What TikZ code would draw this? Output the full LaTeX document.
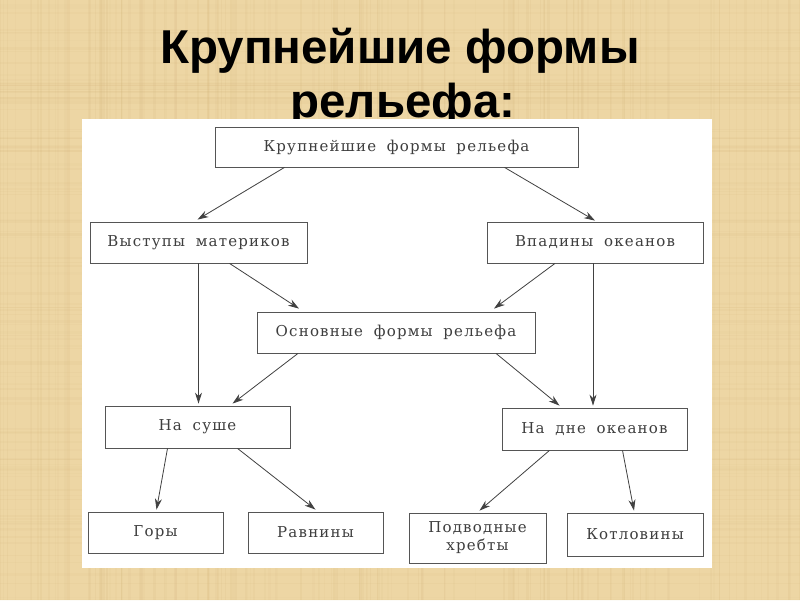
\documentclass[tikz,border=0pt]{standalone}
\usepackage{fontspec}
\setmainfont{DejaVu Serif}
\newfontfamily\titlefont{Liberation Sans}
\newfontfamily\boxfont[LetterSpace=8,WordSpace=1.8]{DejaVu Serif}
\usetikzlibrary{arrows.meta,calc}
\definecolor{parch}{RGB}{237,214,164}
\definecolor{streak}{RGB}{212,180,122}
\definecolor{boxline}{RGB}{85,85,85}
\definecolor{txtgray}{RGB}{62,62,62}
\definecolor{arrgray}{RGB}{65,65,65}
\tikzset{
  fbox/.style={draw=boxline, fill=white, line width=0.8pt, inner sep=0pt,
    font=\boxfont\fontsize{15}{18}\selectfont, text=txtgray, align=center},
  arr/.style={draw=arrgray, line width=0.8pt, -{Stealth[length=11pt,width=7pt]}}
}
\begin{document}
\begin{tikzpicture}[x=1pt,y=-1pt]
\useasboundingbox (0,0) rectangle (800,600);
\fill[parch] (0,0) rectangle (800,600);
% parchment texture
\pgfmathsetseed{7}
\foreach \i in {1,...,140}{
  \pgfmathsetmacro{\xx}{rnd*800}
  \pgfmathsetmacro{\ww}{0.5+rnd*2.5}
  \pgfmathsetmacro{\op}{0.05+rnd*0.10}
  \fill[streak, opacity=\op] (\xx,0) rectangle ++(\ww,600);
}
\foreach \i in {1,...,110}{
  \pgfmathsetmacro{\yy}{rnd*600}
  \pgfmathsetmacro{\hh}{0.5+rnd*2.5}
  \pgfmathsetmacro{\op}{0.04+rnd*0.08}
  \fill[streak, opacity=\op] (0,\yy) rectangle ++(800,\hh);
}
% title
\node[anchor=base, inner sep=0pt] (t1) at (400,63)
  {\titlefont\bfseries\fontsize{47.5}{57}\selectfont Крупнейшие формы};
\node[anchor=base, inner sep=0pt] (t2) at (403,117.5)
  {\titlefont\bfseries\fontsize{47.5}{57}\selectfont рельефа:};
% white panel
\fill[white] (82,118.5) rectangle (712,568);
% boxes
\node[fbox, minimum width=363pt, minimum height=40pt] (top) at (396.5,147) {Крупнейшие формы рельефа};
\node[fbox, minimum width=217pt, minimum height=41pt] (vys) at (198.5,242.5) {Выступы материков};
\node[fbox, minimum width=216pt, minimum height=41pt] (vpad) at (595,242.5) {Впадины океанов};
\node[fbox, minimum width=278pt, minimum height=41pt] (osn) at (396,332.5) {Основные формы рельефа};
\node[fbox, minimum width=185pt, minimum height=42pt] (sushe) at (197.5,427) {На суше};
\node[fbox, minimum width=185pt, minimum height=42pt] (dno) at (594.5,429) {На дне океанов};
\node[fbox, minimum width=135pt, minimum height=41pt] (gory) at (155.5,532.5) {Горы};
\node[fbox, minimum width=135pt, minimum height=41pt] (ravn) at (315.5,532.5) {Равнины};
\node[fbox, minimum width=137pt, minimum height=50pt] (podv) at (477.5,538) {Подводные\\хребты};
\node[fbox, minimum width=136pt, minimum height=43pt] (kotl) at (635,534.5) {Котловины};
% connectors
\draw[arr] ($(top.south)+(-112,0)$) -- ($(vys.north)+(-1,-2)$);
\draw[arr] ($(top.south)+(108,0)$) -- ($(vpad.north)+(0,-1)$);
\draw[arr] ($(vys.south)+(31,0)$) -- ($(osn.north)+(-97,-3)$);
\draw[arr] ($(vpad.south)+(-40,0)$) -- ($(osn.north)+(98,-3)$);
\draw[arr] (vys.south) -- ($(vys.south |- sushe.north)+(0,-2)$);
\draw[arr] ($(vpad.south)+(-2,0)$) -- ($(vpad.south |- dno.north)+(-2,-2)$);
\draw[arr] ($(osn.south)+(-98,0)$) -- ($(sushe.north)+(35,-2)$);
\draw[arr] ($(osn.south)+(100,0)$) -- ($(dno.north)+(-35,-2)$);
\draw[arr] ($(sushe.south)+(-30,0)$) -- ($(gory.north)+(1,-2)$);
\draw[arr] ($(sushe.south)+(40,0)$) -- ($(ravn.north)+(0,-2)$);
\draw[arr] ($(dno.south)+(-45,0)$) -- ($(podv.north)+(2,-2)$);
\draw[arr] ($(dno.south)+(28,0)$) -- ($(kotl.north)+(-1,-2)$);
\end{tikzpicture}
\end{document}
